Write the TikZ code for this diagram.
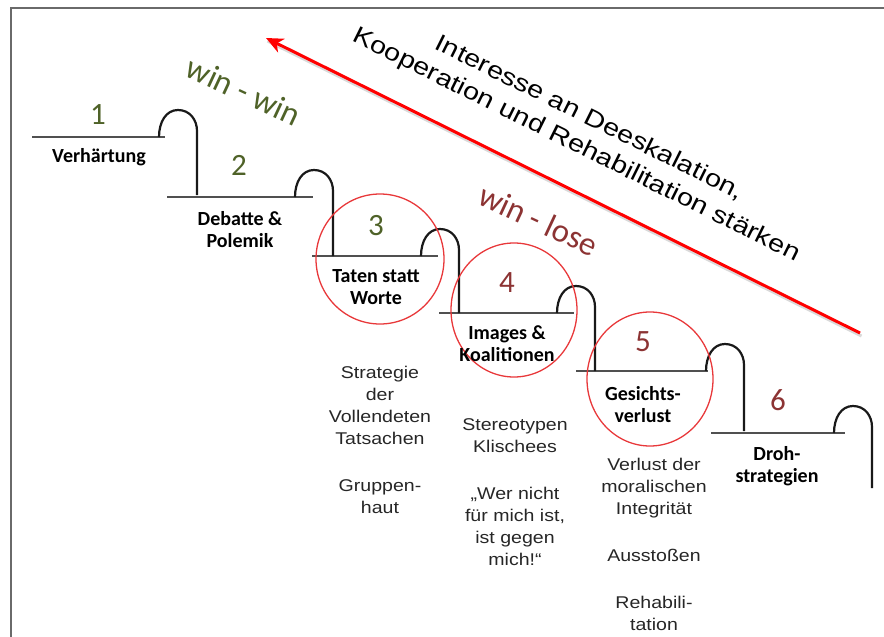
\documentclass[tikz,border=0pt]{standalone}
\usepackage{fontspec}
\setmainfont{Liberation Sans}
\newfontfamily\calib{Carlito}
\newfontfamily\bodyfont[FakeStretch=1.15]{Liberation Sans}
\newfontfamily\claimfont[FakeStretch=1.2]{Liberation Sans}
\usetikzlibrary{arrows.meta}
\definecolor{wingreen}{HTML}{4F6228}
\definecolor{losered}{HTML}{8C3333}
\definecolor{ringred}{HTML}{E8383A}
\definecolor{stepgray}{HTML}{505050}
\definecolor{framegray}{HTML}{6A6A6A}
\definecolor{bodytext}{HTML}{262626}

\begin{document}
\begin{tikzpicture}[x=1pt,y=-1pt,
  tread/.style={draw=stepgray,line width=2.4pt},
  hump/.style={draw=black!90,line width=2.2pt},
  ring/.style={draw=ringred,line width=1.3pt},
  stagenum/.style={font=\calib\fontsize{31}{31}\selectfont,inner sep=0pt},
  stagelabel/.style={font=\calib\bfseries\fontsize{20}{22}\selectfont,align=center,inner sep=0pt},
  note/.style={font=\bodyfont\fontsize{17}{22}\selectfont,align=center,inner sep=0pt,text=bodytext},
  slogan/.style={font=\calib\fontsize{33}{33}\selectfont,inner sep=0pt,text height=0.47em,text depth=0pt,rotate=-25},
  claim/.style={font=\claimfont\fontsize{24}{30}\selectfont,inner sep=0pt,rotate=-26.4,text height=0.72em,text depth=0pt},
]
\useasboundingbox (0,0) rectangle (884,637);

% frame along the top and left edge
\draw[framegray,line width=1.5pt] (884,8) -- (11,8) -- (11,637);

% treads of the staircase
\foreach \xa/\xb/\ly in {32/165/137, 167/313/197, 312/438/256, 439/574/313, 576/708/371, 711/845/433}
  \draw[tread] (\xa,\ly) -- (\xb,\ly);

% arches at the end of each tread, dropping to the next level
\foreach \fx/\ly/\nx in {159/137/195, 295/197/256, 421/256/313, 557/313/371, 706/371/431, 834/433/488}
  \draw[hump] (\fx,\ly) .. controls (\fx,{\ly-15}) and ({\fx+7},{\ly-27}) .. ({\fx+19},{\ly-27})
     .. controls ({\fx+31},{\ly-27}) and ({\fx+38},{\ly-17}) .. ({\fx+38},{\ly-6}) -- ({\fx+38},\nx);

% red rings around stages 3 to 5
\draw[ring] (380,259) ellipse [x radius=64pt, y radius=65pt];
\draw[ring] (514,310) ellipse [x radius=63pt, y radius=67pt];
\draw[ring] (650,379) ellipse [x radius=63pt, y radius=67pt];

% de-escalation arrow with its shadow
\coordinate (arrowtail) at (860,333);
\coordinate (arrowtip) at (266,38);
\draw[line width=3pt,black,opacity=0.15] ([shift={(1.5,3)}]arrowtail) -- ([shift={(1.5,3)}]arrowtip);
\draw[red,line width=3pt,-{Stealth[length=17pt,width=15pt,inset=5pt]}] (arrowtail) -- (arrowtip);

% arrow caption
\node[claim] (claimA) at (588,121) {Interesse an Deeskalation,};
\node[claim] (claimB) at (575,148) {Kooperation und Rehabilitation stärken};

% outcome zones
\node[slogan,text=wingreen] (winwin) at (240,99) {win - win};
\node[slogan,text=losered] (winlose) at (535,228) {win - lose};

% stage numbers
\node[stagenum,text=wingreen] (n1) at (98,115) {1};
\node[stagenum,text=wingreen] (n2) at (239,165) {2};
\node[stagenum,text=wingreen] (n3) at (376,226) {3};
\node[stagenum,text=losered] (n4) at (507,283) {4};
\node[stagenum,text=losered] (n5) at (643,342) {5};
\node[stagenum,text=losered] (n6) at (778,400) {6};

% stage names
\node[stagelabel] (l1) at (99,157) {Verhärtung};
\node[stagelabel] (l2) at (240,230) {Debatte \&\\Polemik};
\node[stagelabel] (l3) at (376,287) {Taten statt\\Worte};
\node[stagelabel] (l4) at (507,344) {Images \&\\Koalitionen};
\node[stagelabel] (l5) at (643,405) {Gesichts-\\verlust};
\node[stagelabel] (l6) at (777,466) {Droh-\\strategien};

% notes under the stages
\node[note] (a1) at (380,405) {Strategie\\der\\Vollendeten\\Tatsachen};
\node[note] (a2) at (380,497) {Gruppen-\\haut};
\node[note] (b1) at (515,436) {Stereotypen\\Klischees};
\node[note] (b2) at (515,526) {„Wer nicht\\für mich ist,\\ist gegen\\mich!“};
\node[note] (c1) at (654,488) {Verlust der\\moralischen\\Integrität};
\node[note] (c2) at (654,555) {Ausstoßen};
\node[note] (c3) at (654,613) {Rehabili-\\tation};
\end{tikzpicture}
\end{document}
